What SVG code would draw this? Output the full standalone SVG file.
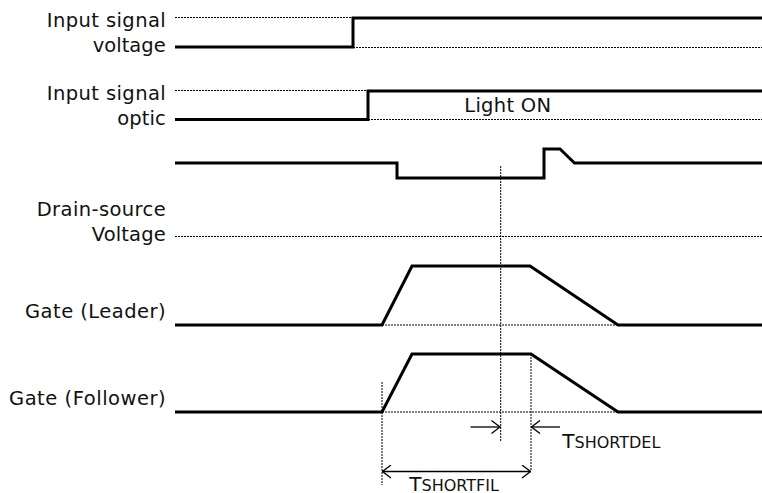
<svg xmlns="http://www.w3.org/2000/svg" width="762" height="493" viewBox="0 0 762 493">
<defs>
<marker id="ah" viewBox="0 0 10 14" refX="10" refY="7" markerWidth="10" markerHeight="14" markerUnits="userSpaceOnUse" orient="auto-start-reverse">
<path d="M1,0.5 L9.5,7 L1,13.5" fill="none" stroke="#000" stroke-width="1.3"/>
</marker>
</defs>
<style>
.sig{fill:none;stroke:#000;stroke-width:3;stroke-linejoin:miter}
.dot{fill:none;stroke:#000;stroke-width:1;stroke-dasharray:2 1}
.lbl{font-family:"DejaVu Sans","Noto Sans",sans-serif;font-size:19.5px;fill:#111}
.arr{fill:none;stroke:#000;stroke-width:1.3}
.big{font-family:"DejaVu Sans","Noto Sans",sans-serif;font-size:20px;fill:#111}
.sm{font-size:16px}
</style>
<rect width="762" height="493" fill="#fff"/>
<g id="labels">
<text class="lbl" x="46.7" y="27" textLength="119" lengthAdjust="spacing">Input signal</text>
<text class="lbl" x="92.7" y="51.5" textLength="73" lengthAdjust="spacing">voltage</text>
<text class="lbl" x="46.7" y="100" textLength="119" lengthAdjust="spacing">Input signal</text>
<text class="lbl" x="117.3" y="124.5" textLength="48.4" lengthAdjust="spacing">optic</text>
<text class="lbl" x="36.7" y="216" textLength="129" lengthAdjust="spacing">Drain-source</text>
<text class="lbl" x="91.7" y="240.5" textLength="74" lengthAdjust="spacing">Voltage</text>
<text class="lbl" x="25" y="317.5" textLength="140.7" lengthAdjust="spacing">Gate (Leader)</text>
<text class="lbl" x="9" y="405" textLength="156.7" lengthAdjust="spacing">Gate (Follower)</text>
</g>
<g id="node-voltage">
<line class="dot" x1="175" y1="17.5" x2="353" y2="17.5"/>
<line class="dot" x1="353" y1="47.5" x2="762" y2="47.5"/>
<path class="sig" d="M175,47 H353 V18 H762"/>
</g>
<g id="node-optic">
<line class="dot" x1="175" y1="90.5" x2="368" y2="90.5"/>
<line class="dot" x1="368" y1="119.5" x2="762" y2="119.5"/>
<path class="sig" d="M175,119.5 H368 V91 H762"/>
<text class="lbl" x="464.3" y="111.5" textLength="86.7" lengthAdjust="spacing">Light ON</text>
</g>
<g id="node-drain">
<line class="dot" x1="175" y1="236.5" x2="762" y2="236.5"/>
<path class="sig" d="M175,163 H397 V178 H544 V149 H560 L574.5,163 H762"/>
</g>
<g id="node-gate-leader">
<line class="dot" x1="382" y1="325" x2="618" y2="325"/>
<path class="sig" d="M175,325 H382 L412,266 H530 L618,325 H762"/>
</g>
<g id="node-gate-follower">
<line class="dot" x1="382" y1="412" x2="618" y2="412"/>
<path class="sig" d="M175,412 H382 L412,354 H531 L618,412 H762"/>
</g>
<g id="connectors">
<line class="dot" x1="500.7" y1="166" x2="500.7" y2="442"/>
<line class="dot" x1="382" y1="382" x2="382" y2="485"/>
<line class="dot" x1="531" y1="354" x2="531" y2="470"/>
<line class="arr" x1="470.5" y1="427" x2="500.5" y2="427" marker-end="url(#ah)"/>
<line class="arr" x1="560" y1="427" x2="531" y2="427" marker-end="url(#ah)"/>
<line class="arr" x1="382" y1="471.5" x2="531" y2="471.5" marker-start="url(#ah)" marker-end="url(#ah)"/>
</g>
<g id="timing-labels">
<text class="big" x="562.3" y="447.7">T<tspan class="sm">SHORTDEL</tspan></text>
<text class="big" x="409.3" y="490.5">T<tspan class="sm">SHORTFIL</tspan></text>
</g>
</svg>
